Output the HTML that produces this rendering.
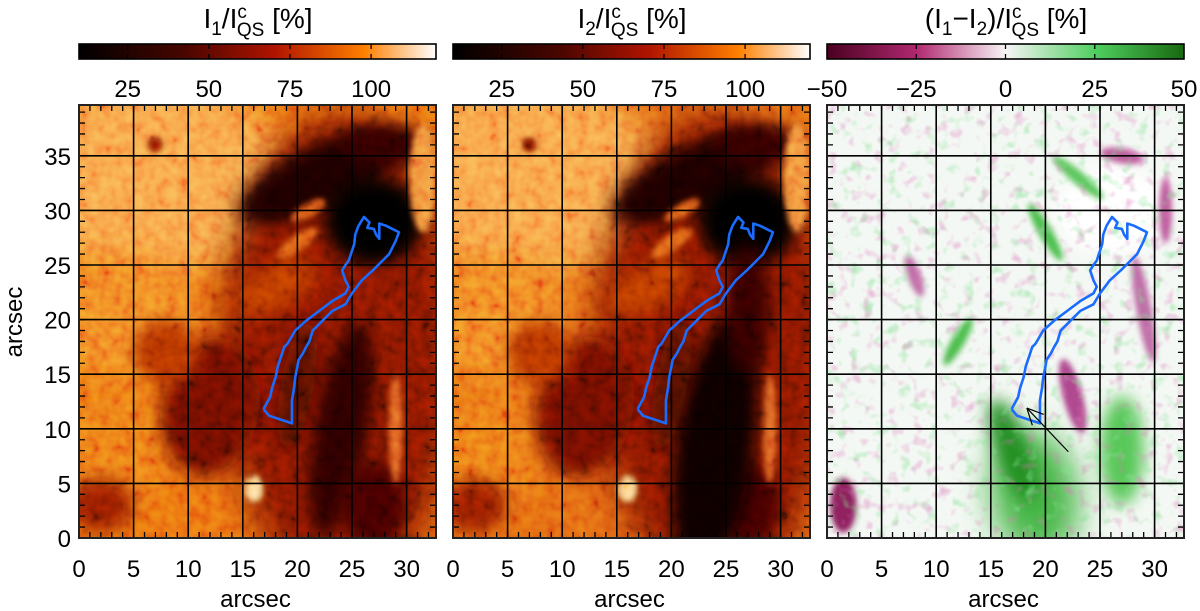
<!DOCTYPE html>
<html><head><meta charset="utf-8"><style>
html,body{margin:0;padding:0;background:#fff;}
svg{display:block;font-family:"Liberation Sans",sans-serif;}
</style></head><body>
<svg id="fig" width="1200" height="611" viewBox="0 0 1200 611" xmlns="http://www.w3.org/2000/svg">
<defs>
 <linearGradient id="gI" x1="0" x2="1">
  <stop offset="0" stop-color="#000"/><stop offset="0.3" stop-color="#4a0600"/>
  <stop offset="0.55" stop-color="#b01400"/><stop offset="0.8" stop-color="#ff8000"/>
  <stop offset="1" stop-color="#fff"/>
 </linearGradient>
 <linearGradient id="gD" x1="0" x2="1">
  <stop offset="0" stop-color="#4a0020"/><stop offset="0.25" stop-color="#b02870"/>
  <stop offset="0.5" stop-color="#f8f4f6"/><stop offset="0.75" stop-color="#50d060"/>
  <stop offset="1" stop-color="#186810"/>
 </linearGradient>
 <filter id="b2" x="-50%" y="-50%" width="200%" height="200%"><feGaussianBlur stdDeviation="3"/></filter>
 <filter id="b5" x="-50%" y="-50%" width="200%" height="200%"><feGaussianBlur stdDeviation="8"/></filter>
 <filter id="b10" x="-50%" y="-50%" width="200%" height="200%"><feGaussianBlur stdDeviation="16"/></filter>
 <filter id="noiseGray"><feTurbulence type="fractalNoise" baseFrequency="0.09" numOctaves="2" seed="3"/>
  <feColorMatrix type="matrix" values="1.6 0 0 0 -0.3  1.6 0 0 0 -0.3  1.6 0 0 0 -0.3  0 0 0 0 1"/></filter>
 <filter id="noiseG"><feTurbulence type="fractalNoise" baseFrequency="0.08" numOctaves="2" seed="11"/>
  <feColorMatrix type="matrix" values="0 0 0 0 0.25  0 0 0 0 0.75  0 0 0 0 0.3  0 0 0 3 -1.7"/></filter>
 <filter id="noiseP"><feTurbulence type="fractalNoise" baseFrequency="0.08" numOctaves="2" seed="19"/>
  <feColorMatrix type="matrix" values="0 0 0 0 0.7  0 0 0 0 0.2  0 0 0 0 0.5  0 0 0 -3 1.3"/></filter>
</defs>
</svg>
<script>
// axis data
const xTicks=[0,5,10,15,20,25,30];
const yTicks=[0,5,10,15,20,25,30,35];
const cbTicksI=[25,50,75,100];
const cbRangeI=[10,120];
const cbTicksD=[-50,-25,0,25,50];
const cbRangeD=[-50,50];
const panelX0=[79,453,827];
const W=357, TOP=105, BOT=538, SC=10.92, XMAX=W/SC, YMAX=(BOT-TOP)/SC;
// contour (arcsec)
const contour=[[16.9,11.8],[17.5,12.9],[17.7,13.8],[18.0,14.7],[18.2,15.7],[18.5,16.6],[18.8,17.5],[19.1,17.8],[19.8,19.0],[20.8,19.9],[22.0,20.8],[23.2,21.7],[24.4,22.4],[24.7,23.0],[24.4,23.6],[24.1,24.5],[24.4,25.0],[24.7,25.4],[24.9,26.0],[25.2,26.9],[25.3,27.8],[25.6,28.6],[26.1,29.4],[26.6,28.9],[26.4,28.4],[27.0,28.3],[27.2,27.8],[27.5,27.4],[27.5,28.8],[28.1,28.6],[28.7,28.3],[29.3,28.0],[29.0,27.2],[28.7,26.6],[28.4,26.0],[27.8,25.4],[26.9,24.5],[25.9,23.6],[25.0,22.4],[24.4,21.4],[23.2,20.8],[22.3,19.9],[21.4,19.0],[21.1,18.0],[20.8,17.5],[20.5,16.9],[20.1,16.3],[20.0,15.7],[19.8,14.7],[19.7,13.8],[19.5,12.6],[19.5,11.4],[19.5,10.5],[19.2,10.6],[18.3,10.9],[17.4,11.2],[16.9,11.8]];
const arrow=[[22.1,7.9],[18.3,11.9]];
const NS="http://www.w3.org/2000/svg";
const svg=document.getElementById('fig');
function el(t,a,p){const e=document.createElementNS(NS,t);for(const k in a)e.setAttribute(k,a[k]);(p||svg).appendChild(e);return e;}
// shapes: [cx,cy,rx,ry,rot,color,blur]
const base1=[
 [7,33,12,9,0,'#f89c44','b10'],
 [4,20,7,6,0,'#f07e24','b10'],
 [3,8,5,6,0,'#ec7418','b10'],
 [24,17,11,22,0,'#801400','b10'],
 [12,12,4.5,6.5,10,'#6a0e00','b5'],
 [8,17,3,3,0,'#b03000','b5'],
 [18,23,4,2,-30,'#b83800','b5'],
 [22,33,8,3,-25,'#1a0000','b5'],
 [28,36,4,2,0,'#300000','b5'],
 [27,29,4.5,4,0,'#050000','b5'],
 [24,10,2.5,10,10,'#2a0000','b5'],
 [27,3,3,4,0,'#400000','b5'],
 [20,14,1.5,6,10,'#500800','b5'],
 [29,10,0.6,5,0,'#e06020','b2'],
 [16,4.5,0.8,1.2,0,'#ffd890','b2'],
 [20,27,2.2,0.7,-35,'#e06018','b2'],
 [21,30,1.8,0.6,-30,'#d85818','b2'],
 [31.5,33,1.2,5,0,'#f08838','b2'],
 [2,3,3,2.5,0,'#901c00','b5'],
 [7,36,0.7,0.7,0,'#8a1800','b2']
];
const base2=base1.concat([
 [24,8,3.5,12,8,'#080000','b5'],
 [27,21,2,6,0,'#300400','b5']
]);
const base3=[
 [19,4,4,6,-10,'#48b848','b10'],
 [17,8,1.5,5,-20,'#209020','b5'],
 [27,8,2,5,0,'#58c858','b5'],
 [1.5,3,1.2,2.5,0,'#902060','b2'],
 [22.5,13,0.9,3.5,-15,'#b04890','b2'],
 [29,21,0.7,5,-10,'#c070a8','b2'],
 [26,30,5,4,0,'#ffffff','b5'],
 [20,28,0.6,3,-30,'#50c050','b2'],
 [23,33,0.6,3,-50,'#60c860','b2'],
 [27,35,2,0.7,10,'#c060a0','b2'],
 [31,30,0.6,3,0,'#c060a0','b2'],
 [12,18,0.6,2.5,30,'#50c050','b2'],
 [8,24,0.6,2,-20,'#c070a8','b2']
];
const bgs=['#ea6a10','#e26212','#f4f8f4'];
const shapes=[base1,base2,base3];
const names=['panel-i1','panel-i2','panel-diff'];
panelX0.forEach((x0,pi)=>{
 const X=a=>x0+a*SC, Y=b=>BOT-b*SC;
 const g=el('g',{});
 
 
 const clip=el('clipPath',{id:'cp'+pi});
 el('rect',{x:x0,y:TOP,width:W,height:BOT-TOP},clip);
 const img=el('g',{'clip-path':'url(#cp'+pi+')'},g);
 
 
 el('rect',{x:x0,y:TOP,width:W,height:BOT-TOP,fill:bgs[pi]},img);
 shapes[pi].forEach(s=>{
  el('ellipse',{cx:X(s[0]),cy:Y(s[1]),rx:s[2]*SC,ry:s[3]*SC,fill:s[5],filter:'url(#'+s[6]+')',transform:`rotate(${s[4]} ${X(s[0])} ${Y(s[1])})`},img);
 });
 if(pi<2){
  el('rect',{x:x0,y:TOP,width:W,height:BOT-TOP,filter:'url(#noiseGray)',opacity:0.35,style:'mix-blend-mode:overlay'},img);
 }else{
  el('rect',{x:x0,y:TOP,width:W,height:BOT-TOP,filter:'url(#noiseG)',opacity:0.6},img);
  el('rect',{x:x0,y:TOP,width:W,height:BOT-TOP,filter:'url(#noiseP)',opacity:0.5},img);
 }
 xTicks.forEach(v=>{if(v>0){const l=el('line',{x1:X(v),x2:X(v),y1:TOP,y2:BOT,stroke:'#000','stroke-width':1.6},g);}});
 yTicks.forEach(v=>{if(v>0){const l=el('line',{x1:x0,x2:x0+W,y1:Y(v),y2:Y(v),stroke:'#000','stroke-width':1.6},g);}});
 let d='';
 for(let v=0;v<=XMAX;v++){d+=`M${X(v)} ${BOT}v-6M${X(v)} ${TOP}v6`;}
 for(let v=0;v<=YMAX;v++){d+=`M${x0} ${Y(v)}h6M${x0+W} ${Y(v)}h-6`;}
 el('path',{d:d,stroke:'#000','stroke-width':1.3,fill:'none'},g);
 const fr=el('rect',{x:x0,y:TOP,width:W,height:BOT-TOP,fill:'none',stroke:'#222','stroke-width':2},g);
 
 const c=el('polyline',{points:contour.map(p=>X(p[0])+','+Y(p[1])).join(' '),fill:'none',stroke:'#1a6cff','stroke-width':2.6,'stroke-linejoin':'round'},g);
 
 if(pi==2){
  const a0=arrow[0],a1=arrow[1];
  const ar=el('g',{},g);
  
  el('line',{x1:X(a0[0]),y1:Y(a0[1]),x2:X(a1[0]),y2:Y(a1[1]),stroke:'#000','stroke-width':1.2},ar);
  const ang=Math.atan2(Y(a1[1])-Y(a0[1]),X(a1[0])-X(a0[0]));
  const tx=X(a1[0]),ty=Y(a1[1]);
  [0.45,-0.45].forEach(o=>{el('line',{x1:tx,y1:ty,x2:tx-18*Math.cos(ang+o),y2:ty-18*Math.sin(ang+o),stroke:'#000','stroke-width':1.2},ar);});
 }
 xTicks.forEach(v=>{const t=el('text',{x:X(v),y:577,'font-size':24,'text-anchor':'middle',fill:'#000'},g);t.textContent=v;});
 if(pi==0) yTicks.forEach(v=>{const t=el('text',{x:71,y:Y(v)+9,'font-size':24,'text-anchor':'end',fill:'#000'},g);t.textContent=v;});
 const xt=el('text',{x:x0+W/2-2,y:607,'font-size':24,'text-anchor':'middle'},g);xt.textContent='arcsec';
 
 const cb=el('g',{},g);
 
 el('rect',{x:x0,y:44,width:W,height:15,fill:pi<2?'url(#gI)':'url(#gD)',stroke:'#000','stroke-width':1.6},cb);
 const tk=pi<2?cbTicksI:cbTicksD, rg=pi<2?cbRangeI:cbRangeD;
 tk.forEach(v=>{
  const xx=x0+(v-rg[0])/(rg[1]-rg[0])*W;
  if(v>rg[0]&&v<rg[1]){el('line',{x1:xx,x2:xx,y1:44,y2:49,stroke:'#000','stroke-width':1.3},cb);el('line',{x1:xx,x2:xx,y1:54,y2:59,stroke:'#000','stroke-width':1.3},cb);}
  const t=el('text',{x:xx,y:97,'font-size':24,'text-anchor':'middle'},cb);t.textContent=(v<0?'\u2212'+(-v):v);
  
 });
});
const titles=[
 ['I','1','/I','c','QS',' [%]',258],
 ['I','2','/I','c','QS',' [%]',632]
];
titles.forEach((tt,i)=>{
 const t=el('text',{x:tt[6],y:28,'font-size':28,'text-anchor':'middle'});
 
 t.innerHTML=`${tt[0]}<tspan font-size="19" dy="7">${tt[1]}</tspan><tspan dy="-7">${tt[2]}</tspan><tspan font-size="19" dy="-10">${tt[3]}</tspan><tspan font-size="19" dx="-10" dy="18">${tt[4]}</tspan><tspan dy="-8">${tt[5]}</tspan>`;
});
const t3=el('text',{x:1006,y:28,'font-size':28,'text-anchor':'middle'});

t3.innerHTML=`(I<tspan font-size="19" dy="7">1</tspan><tspan dy="-7">\u2212I</tspan><tspan font-size="19" dy="7">2</tspan><tspan dy="-7">)/I</tspan><tspan font-size="19" dy="-10">c</tspan><tspan font-size="19" dx="-10" dy="18">QS</tspan><tspan dy="-8"> [%]</tspan>`;
const yt=el('text',{x:0,y:0,'font-size':24,'text-anchor':'middle',transform:'translate(22,322) rotate(-90)'});
yt.textContent='arcsec';

</script>
</body></html>
